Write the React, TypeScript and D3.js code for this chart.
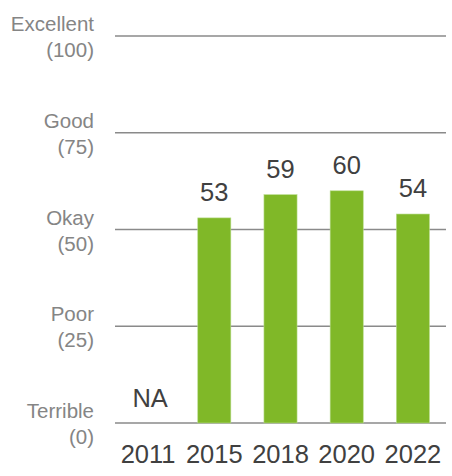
import React from "react";
import * as d3 from "d3";

const years = ["2011", "2015", "2018", "2020", "2022"];
const scores: (number | null)[] = [null, 53, 59, 60, 54];
const tickValues = [0, 25, 50, 75, 100];
const tickNames = ["Terrible", "Poor", "Okay", "Good", "Excellent"];

export default function App() {
  const W = 452, H = 476;
  const x = d3.scaleBand<string>().domain(years).range([115, 446]).paddingInner(0.5).paddingOuter(0.25);
  const y = d3.scaleLinear().domain([0, 100]).range([423, 36]);
  const font = "Arial, 'Liberation Sans', sans-serif";
  return (
    <svg width={W} height={H} style={{ position: "absolute", left: 0, top: 0 }} fontFamily={font}>
      {tickValues.map((t, i) => (
        <g key={t}>
          <line x1={115} x2={446} y1={y(t)} y2={y(t)} stroke="#8a8a8a" strokeWidth={1.3} />
          <text x={94} y={y(t) - 5} textAnchor="end" fontSize={20.5} fill="#858585">{tickNames[i]}</text>
          <text x={94} y={y(t) + 21} textAnchor="end" fontSize={20.5} fill="#858585">({t})</text>
        </g>
      ))}
      {years.map((yr, i) => {
        const v = scores[i];
        const cx = (x(yr) as number) + x.bandwidth() / 2;
        return (
          <g key={yr}>
            {v !== null ? (
              <>
                <rect x={x(yr)} y={y(v)} width={x.bandwidth()} height={y(0) - y(v)} fill="#80b828" stroke="#b9dc8e" strokeWidth={0.6} />
                <text x={cx} y={y(v) - 17} textAnchor="middle" fontSize={25.5} fill="#404040">{v}</text>
              </>
            ) : (
              <text x={cx + 2} y={y(0) - 16} textAnchor="middle" fontSize={25.5} fill="#404040">NA</text>
            )}
            <text x={cx} y={463} textAnchor="middle" fontSize={25.5} fill="#404040">{yr}</text>
          </g>
        );
      })}
    </svg>
  );
}
